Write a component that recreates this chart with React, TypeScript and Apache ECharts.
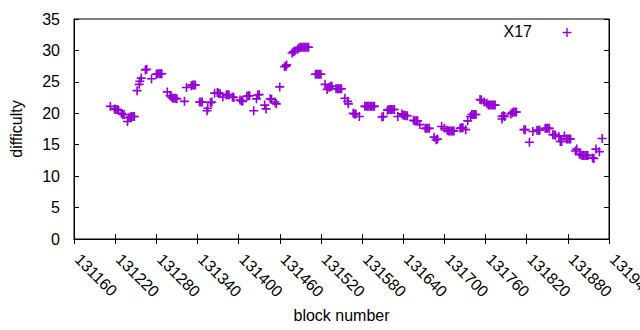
import React, { useEffect, useRef } from 'react';
import * as echarts from 'echarts';

// block numbers and difficulties (paired by index)
const blockNumbers = [
  131213, 131219, 131221, 131223, 131225, 131229, 131231, 131233, 131238,
  131240, 131242, 131244, 131246, 131248, 131252, 131255, 131256, 131258,
  131264, 131266, 131273, 131280, 131282, 131284, 131286, 131288, 131296,
  131300, 131302, 131304, 131306, 131308, 131310, 131321, 131324, 131331,
  131333, 131335, 131337, 131343, 131345, 131347, 131354, 131355, 131359,
  131361, 131365, 131369, 131371, 131373, 131377, 131382, 131384, 131386,
  131391, 131393, 131402, 131404, 131406, 131412, 131414, 131416, 131422,
  131426, 131428, 131430, 131438, 131440, 131446, 131448, 131453, 131455,
  131460, 131467, 131469, 131470, 131478, 131480, 131482, 131486, 131488,
  131490, 131492, 131494, 131496, 131498, 131500, 131502, 131512, 131514,
  131516, 131518, 131520, 131526, 131529, 131532, 131534, 131536, 131542,
  131544, 131546, 131548, 131550, 131555, 131559, 131560, 131567, 131569,
  131571, 131576, 131584, 131586, 131588, 131590, 131592, 131594, 131596,
  131598, 131609, 131611, 131617, 131619, 131621, 131623, 131625, 131627,
  131632, 131638, 131640, 131642, 131644, 131646, 131655, 131657, 131659,
  131661, 131664, 131672, 131674, 131676, 131678, 131685, 131688, 131690,
  131696, 131700, 131704, 131706, 131708, 131710, 131712, 131714, 131723,
  131725, 131727, 131731, 131734, 131738, 131740, 131742, 131744, 131746,
  131752, 131754, 131758, 131762, 131764, 131766, 131768, 131770, 131772,
  131774, 131784, 131784, 131786, 131788, 131797, 131799, 131801, 131803,
  131805, 131816, 131818, 131824, 131829, 131835, 131837, 131839, 131847,
  131849, 131851, 131853, 131858, 131860, 131862, 131867, 131869, 131871,
  131875, 131878, 131880, 131882, 131884, 131891, 131893, 131897, 131899,
  131901, 131903, 131905, 131907, 131909, 131916, 131918, 131921, 131926,
  131930,
];

const difficulties = [
  21.1, 20.7, 20.6, 20.6, 20.5, 20.0, 19.8, 19.8, 18.7,
  19.3, 19.4, 19.5, 19.5, 19.5, 23.6, 24.6, 25.1, 25.6,
  26.9, 27.0, 25.5, 26.2, 26.3, 26.3, 26.3, 26.3, 23.4,
  22.8, 22.6, 22.4, 22.4, 22.4, 22.3, 21.9, 24.1, 24.4,
  24.5, 24.5, 24.5, 21.8, 21.8, 21.8, 20.4, 20.8, 21.7,
  21.8, 23.2, 23.3, 23.2, 23.1, 22.6, 22.9, 23.0, 22.9,
  22.6, 22.5, 22.1, 22.0, 21.9, 22.7, 22.8, 22.8, 20.4,
  22.3, 22.9, 23.0, 21.3, 20.7, 22.3, 22.2, 21.8, 21.5,
  24.2, 27.4, 27.5, 27.7, 29.6, 29.8, 29.9, 30.2, 30.4,
  30.5, 30.5, 30.5, 30.5, 30.5, 30.5, 30.5, 26.2, 26.2,
  26.2, 26.2, 26.2, 24.6, 23.8, 24.1, 24.3, 24.3, 23.9,
  23.9, 23.9, 23.9, 23.9, 22.4, 21.9, 21.5, 20.0, 19.9,
  19.9, 19.5, 21.1, 21.1, 21.1, 21.1, 21.1, 21.1, 21.1,
  21.1, 19.4, 19.5, 20.5, 20.6, 20.6, 20.6, 20.6, 20.6,
  19.5, 19.9, 19.7, 19.7, 19.6, 19.6, 18.9, 18.8, 18.8,
  18.8, 18.2, 17.6, 17.6, 17.6, 17.6, 16.2, 15.8, 15.9,
  17.9, 17.6, 17.3, 17.2, 17.2, 17.2, 17.2, 17.2, 17.6,
  17.7, 17.7, 17.4, 18.8, 19.5, 19.8, 19.8, 19.8, 19.8,
  22.2, 22.1, 21.8, 21.6, 21.3, 21.3, 21.3, 21.3, 21.3,
  21.3, 19.1, 19.5, 19.6, 19.5, 19.9, 20.1, 20.2, 20.2,
  20.2, 17.4, 17.4, 15.4, 17.1, 17.3, 17.3, 17.3, 17.6,
  17.6, 17.6, 17.6, 16.6, 16.6, 16.5, 16.3, 15.5, 15.5,
  16.4, 15.9, 15.9, 15.9, 15.9, 14.0, 14.3, 13.5, 13.4,
  13.3, 13.3, 13.3, 13.3, 13.3, 12.9, 12.8, 14.3, 13.9,
  16.0,
];

const seriesName = 'X17';
const xMin = 131160;
const xMax = 131940;
const xStep = 60;
const yMin = 0;
const yMax = 35;
const yStep = 5;

const PLUS = 'path://M0,3.7H9V5.3H0Z M3.7,0H5.3V9H3.7Z';
const PURPLE = '#9400D3';
const FONT = 'Liberation Sans';
const FS = 16;

export default function App() {
  const ref = useRef<HTMLDivElement>(null);
  useEffect(() => {
    const chart = echarts.init(ref.current!, null, { renderer: 'svg' });
    const data = blockNumbers.map((b, i) => [b, difficulties[i]]);
    const commonX = {
      type: 'value',
      min: xMin,
      max: xMax,
      interval: xStep,
      splitLine: { show: false },
      axisLine: { show: true, lineStyle: { color: '#000', width: 1 } },
      axisTick: { show: true, inside: true, length: 5, lineStyle: { color: '#000', width: 1 } },
    };
    const commonY = {
      type: 'value',
      min: yMin,
      max: yMax,
      interval: yStep,
      splitLine: { show: false },
      axisLine: { show: true, lineStyle: { color: '#000', width: 1 } },
      axisTick: { show: true, inside: true, length: 5, lineStyle: { color: '#000', width: 1 } },
    };
    chart.setOption({
      animation: false,
      backgroundColor: '#ffffff',
      textStyle: { fontFamily: FONT },
      grid: {
        left: 74,
        right: 31,
        top: 19,
        bottom: 91,
        show: true,
        borderColor: '#000',
        borderWidth: 1,
        containLabel: false,
        outerBoundsMode: 'none',
      },
      xAxis: [
        {
          ...commonX,
          position: 'bottom',
          axisLabel: {
            rotate: -45,
            margin: 14,
            padding: [0, 0, 0, 5],
            color: '#000',
            fontSize: FS,
            fontFamily: FONT,
            showMinLabel: true,
            showMaxLabel: true,
            formatter: (v: number) => String(v),
          },
          name: 'block number',
          nameLocation: 'middle',
          nameGap: 68,
          nameTextStyle: { color: '#000', fontSize: FS, fontFamily: FONT },
        },
        {
          ...commonX,
          position: 'top',
          axisLabel: { show: false },
        },
      ],
      yAxis: [
        {
          ...commonY,
          position: 'left',
          axisLabel: {
            margin: 14,
            color: '#000',
            fontSize: FS,
            fontFamily: FONT,
            formatter: (v: number) => String(v),
          },
          name: 'difficulty',
          nameLocation: 'middle',
          nameRotate: 90,
          nameGap: 50,
          nameTextStyle: { color: '#000', fontSize: FS, fontFamily: FONT },
        },
        {
          ...commonY,
          position: 'right',
          axisLabel: { show: false },
        },
      ],
      graphic: [
        {
          type: 'text',
          right: 640 - 532,
          top: 23,
          style: { text: seriesName, fill: '#000', font: `${FS}px "${FONT}"`, textAlign: 'right' },
        },
        {
          type: 'line',
          shape: { x1: 562.5, y1: 32.5, x2: 571.5, y2: 32.5 },
          style: { stroke: PURPLE, lineWidth: 1.4 },
        },
        {
          type: 'line',
          shape: { x1: 567, y1: 28, x2: 567, y2: 37 },
          style: { stroke: PURPLE, lineWidth: 1.4 },
        },
      ],
      series: [
        {
          type: 'scatter',
          name: seriesName,
          xAxisIndex: 0,
          yAxisIndex: 0,
          data,
          symbol: PLUS,
          symbolSize: 9,
          itemStyle: { color: PURPLE, opacity: 1 },
          emphasis: { disabled: true },
        },
      ],
    });
    return () => chart.dispose();
  }, []);
  return (
    <div
      ref={ref}
      style={{ position: 'absolute', left: 0, top: 0, width: 640, height: 330, background: '#fff' }}
    />
  );
}
